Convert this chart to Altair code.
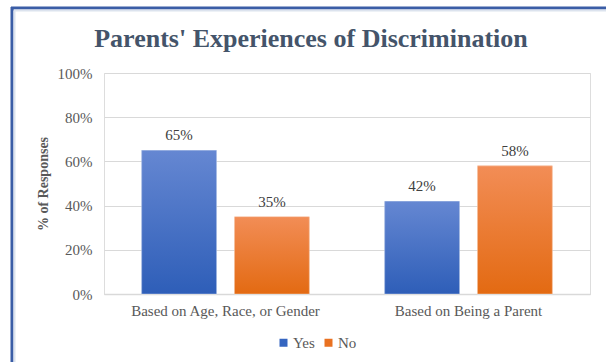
import altair as alt
import pandas as pd

categories = ["Based on Age, Race, or Gender", "Based on Being a Parent"]
series = ["Yes", "No"]
yes_values = [0.65, 0.42]
no_values = [0.35, 0.58]

rows = []
for i, c in enumerate(categories):
    rows.append({"category": c, "series": "Yes", "value": yes_values[i], "label": f"{round(yes_values[i]*100)}%"})
    rows.append({"category": c, "series": "No", "value": no_values[i], "label": f"{round(no_values[i]*100)}%"})
df = pd.DataFrame(rows)

FONT = "Liberation Serif"
GRAY = "#595959"

blue_grad = {"gradient": "linear", "x1": 0, "y1": 0, "x2": 0, "y2": 1,
             "stops": [{"offset": 0, "color": "#6587D2"}, {"offset": 1, "color": "#2E5EB8"}]}
orange_grad = {"gradient": "linear", "x1": 0, "y1": 0, "x2": 0, "y2": 1,
               "stops": [{"offset": 0, "color": "#F28D56"}, {"offset": 1, "color": "#E36A12"}]}

x_enc = alt.X("category:N", sort=categories, title=None,
              scale=alt.Scale(paddingInner=0.31, paddingOuter=0.155),
              axis=alt.Axis(labelAngle=0, labelFontSize=15, labelColor=GRAY, labelFont=FONT,
                            labelPadding=9, labelLimit=400, labelOverlap=False, ticks=False,
                            domainColor="#D9D9D9", domainWidth=1.5, grid=False))
xoff = alt.XOffset("series:N", sort=series, scale=alt.Scale(paddingInner=0.194, paddingOuter=0))
y_enc = alt.Y("value:Q", scale=alt.Scale(domain=[0, 1]),
              axis=alt.Axis(format="%", values=[0, 0.2, 0.4, 0.6, 0.8, 1.0], title="% of Responses",
                            titleFont=FONT, titleFontSize=14, titleColor=GRAY, titleFontWeight="bold",
                            labelFont=FONT, labelFontSize=15, labelColor=GRAY, labelPadding=12,
                            ticks=False, domain=False, gridColor="#D9D9D9", gridWidth=1,
                            titlePadding=7))

base = alt.Chart(df)

bars_legend = base.mark_bar().encode(
    x=x_enc, xOffset=xoff, y=y_enc,
    color=alt.Color("series:N", sort=series,
                    scale=alt.Scale(domain=series, range=["#3565C0", "#E97121"]),
                    legend=alt.Legend(title=None, orient="none", direction="horizontal",
                                      legendX=172, legendY=262, symbolType="square",
                                      symbolSize=64, labelFont=FONT, labelFontSize=15,
                                      labelColor=GRAY, columnPadding=6, labelOffset=2)),
)

bars_grad = base.mark_bar(stroke="#FFFFFF", strokeOpacity=0.35, strokeWidth=1).encode(
    x=x_enc, xOffset=xoff, y=y_enc,
    fill=alt.condition(alt.datum.series == "Yes", alt.value(blue_grad), alt.value(orange_grad)),
)

labels = base.mark_text(dy=-15, font=FONT, fontSize=15, color="#404040").encode(
    x=x_enc, xOffset=xoff, y=y_enc, text="label:N"
)

one = pd.DataFrame({"a": [0]})
frame_top = alt.Chart(one).mark_rule(color="#3A5DA6", strokeWidth=3).encode(
    x=alt.value(-93), x2=alt.value(502), y=alt.value(-65))
frame_left = alt.Chart(one).mark_rule(color="#3A5DA6", strokeWidth=3).encode(
    x=alt.value(-92), y=alt.value(-66), y2=alt.value(289))
frame_top_in = alt.Chart(one).mark_rule(color="#DCE3EE", strokeWidth=2).encode(
    x=alt.value(-90), x2=alt.value(502), y=alt.value(-62.5))
frame_left_in = alt.Chart(one).mark_rule(color="#DCE3EE", strokeWidth=2).encode(
    x=alt.value(-89.5), y=alt.value(-62), y2=alt.value(289))

chart = alt.layer(bars_legend, bars_grad, labels, frame_top, frame_left, frame_top_in, frame_left_in).properties(
    width=486, height=221,
    title=alt.TitleParams("Parents' Experiences of Discrimination", font=FONT, fontSize=26,
                          fontWeight="bold", color="#44546A", dx=-36, offset=-67,
                          baseline="alphabetic"),
    autosize=alt.AutoSizeParams(type="none"),
    padding={"left": 104, "top": 73, "right": 16, "bottom": 68},
).configure_view(stroke=None).configure(background="white")

chart.save("out.html", embed_options={"renderer": "svg", "actions": False})
